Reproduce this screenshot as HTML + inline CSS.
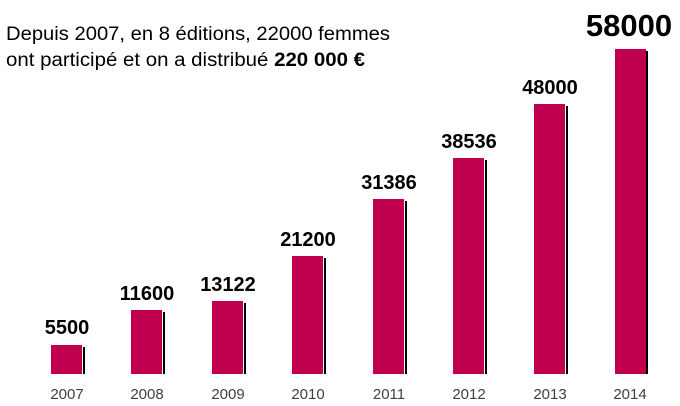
<!DOCTYPE html>
<html><head><meta charset="utf-8"><style>html,body{margin:0;padding:0;background:#fff}svg{display:block}</style></head>
<body>
<svg width="680" height="406" xmlns="http://www.w3.org/2000/svg" font-family="Liberation Sans, sans-serif">
<text x="6" y="40" font-size="19" textLength="384" lengthAdjust="spacingAndGlyphs" fill="#000">Depuis 2007, en 8 éditions, 22000  femmes</text>
<text x="6" y="66" font-size="19" fill="#000" textLength="359" lengthAdjust="spacingAndGlyphs">ont participé et on a distribué <tspan font-weight="bold">220 000 €</tspan></text>
<g fill="#c0004e">
<rect x="51" y="345" width="31" height="29"/>
<rect x="131" y="310" width="31" height="64"/>
<rect x="212" y="301" width="31" height="73"/>
<rect x="292" y="256" width="31" height="118"/>
<rect x="373" y="199" width="31" height="175"/>
<rect x="453" y="158" width="31" height="216"/>
<rect x="534" y="104" width="31" height="270"/>
<rect x="615" y="49" width="31" height="325"/>
</g>
<g fill="#000">
<rect x="83" y="347" width="2" height="27"/>
<rect x="163" y="312" width="2" height="62"/>
<rect x="244" y="303" width="2" height="71"/>
<rect x="324" y="258" width="2" height="116"/>
<rect x="405" y="201" width="2" height="173"/>
<rect x="485" y="160" width="2" height="214"/>
<rect x="566" y="106" width="2" height="268"/>
<rect x="646" y="51" width="2" height="323"/>
</g>
<g font-weight="bold" font-size="20" text-anchor="middle" fill="#000">
<text x="67" y="334">5500</text>
<text x="147" y="300">11600</text>
<text x="228" y="291">13122</text>
<text x="308" y="246">21200</text>
<text x="389" y="189">31386</text>
<text x="469" y="148">38536</text>
<text x="550" y="94">48000</text>
<text x="629" y="36" font-size="31">58000</text>
</g>
<g font-size="15" text-anchor="middle" fill="#404040">
<text x="67" y="399">2007</text>
<text x="147" y="399">2008</text>
<text x="228" y="399">2009</text>
<text x="308" y="399">2010</text>
<text x="389" y="399">2011</text>
<text x="469" y="399">2012</text>
<text x="550" y="399">2013</text>
<text x="630" y="399">2014</text>
</g>
</svg>
</body></html>
